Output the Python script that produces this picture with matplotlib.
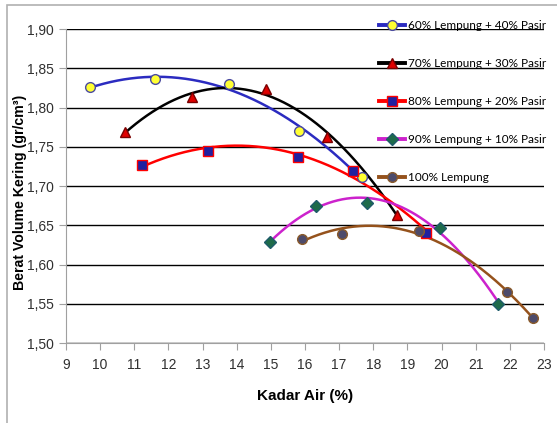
import numpy as np
import matplotlib.pyplot as plt
from matplotlib.patches import Rectangle

# ── 資料 ──
labels = ['60% Lempung + 40% Pasir', '70% Lempung + 30% Pasir',
          '80% Lempung + 20% Pasir', '90% Lempung + 10% Pasir', '100% Lempung']

x_60 = [9.70, 11.61, 13.78, 15.83, 17.66]
y_60 = [1.826, 1.836, 1.830, 1.770, 1.711]

x_70 = [10.73, 12.68, 14.85, 16.64, 18.71]
y_70 = [1.769, 1.814, 1.824, 1.763, 1.663]

x_80 = [11.22, 13.17, 15.79, 17.42, 19.56]
y_80 = [1.727, 1.745, 1.737, 1.719, 1.640]

x_90 = [14.98, 16.31, 17.81, 19.95, 21.66]
y_90 = [1.629, 1.675, 1.678, 1.647, 1.550]

x_100 = [15.90, 17.09, 19.35, 21.93, 22.67]
y_100 = [1.633, 1.639, 1.643, 1.565, 1.532]

x_ticks = list(range(9, 24))
y_ticks = [1.50, 1.55, 1.60, 1.65, 1.70, 1.75, 1.80, 1.85, 1.90]

series = [
    (x_60, y_60, '#2b2bc0', 'o', '#ffff33', '#4a4aa0'),
    (x_70, y_70, '#000000', '^', '#e00000', '#7a0000'),
    (x_80, y_80, '#ff0000', 's', '#2020a0', '#ff0000'),
    (x_90, y_90, '#cc22cc', 'D', '#1e6b4a', '#1e5b6a'),
    (x_100, y_100, '#95521c', 'o', '#4d4b6b', '#8a5a2a'),
]

plt.rcParams['font.family'] = ['Liberation Sans', 'DejaVu Sans']

fig = plt.figure(figsize=(5.57, 4.23), dpi=100)
ax = fig.add_axes([0.1185, 0.189, 0.858, 0.742])

# 外框
fig.patches.append(Rectangle((0.013, -0.01), 0.99, 0.998, transform=fig.transFigure,
                             fill=False, edgecolor='#b0b0b0', linewidth=1.2))

# 每組：二次多項式趨勢線 + 資料點
for (xs, ys, lc, mk, mfc, mec), lab in zip(series, labels):
    coef = np.polyfit(xs, ys, 2)
    xx = np.linspace(min(xs), max(xs), 200)
    ax.plot(xx, np.polyval(coef, xx), color=lc, linewidth=1.8, zorder=3)
    ms = 7 if mk != 'D' else 6
    ax.plot(xs, ys, linestyle='none', marker=mk, markersize=ms,
            markerfacecolor=mfc, markeredgecolor=mec, markeredgewidth=1, zorder=4)
    ax.plot([], [], color=lc, linewidth=2.8, marker=mk, markersize=ms,
            markerfacecolor=mfc, markeredgecolor=mec, label=lab)

ax.set_xlim(9, 23)
ax.set_ylim(1.50, 1.90)
ax.set_xticks(x_ticks)
ax.set_yticks(y_ticks)
ax.set_yticklabels([f'{v:.2f}'.replace('.', ',') for v in y_ticks])
ax.yaxis.grid(True, color='black', linewidth=1)
ax.set_axisbelow(True)
for s in ['top', 'right']:
    ax.spines[s].set_visible(False)
for s in ['left', 'bottom']:
    ax.spines[s].set_color('#a0a0a0')
ax.tick_params(axis='both', colors='#a0a0a0', labelcolor='#303030', labelsize=10, length=5)
ax.tick_params(axis='x', pad=6)

ax.set_xlabel('Kadar Air (%)', fontsize=11, fontweight='bold', labelpad=12)
fig.text(20 / 557, 1 - 192 / 423, 'Berat Volume Kering (gr/cm³)', rotation=90,
         ha='center', va='center', fontsize=10.2, fontweight='bold')

leg = ax.legend(loc='upper left', bbox_to_anchor=(0.646, 1.045), frameon=False,
                prop={'family': ['Lato', 'DejaVu Sans'], 'size': 8.5},
                labelspacing=2.3, handlelength=2.2, handletextpad=0.25,
                borderaxespad=0)

plt.savefig('out.png', dpi=100)
